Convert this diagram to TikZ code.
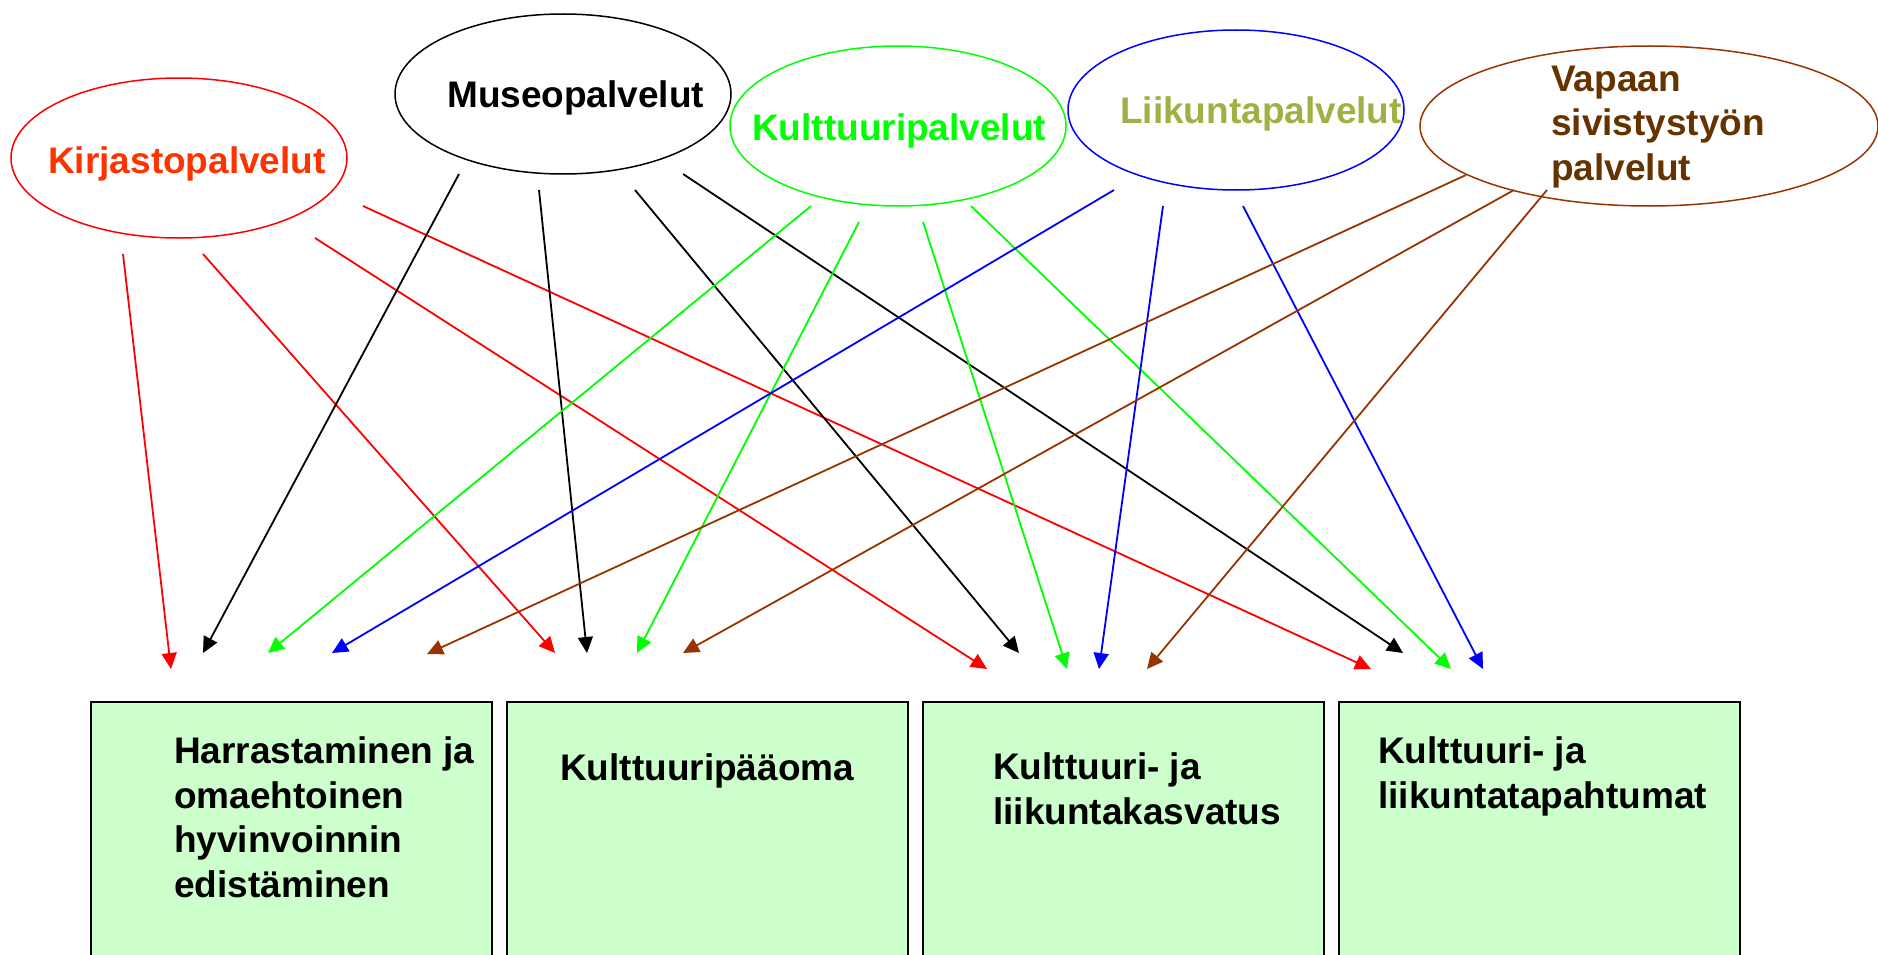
\documentclass[tikz,border=0pt]{standalone}
\usepackage{fontspec}
\setmainfont{Liberation Sans}
\usetikzlibrary{positioning, arrows.meta}
\usetikzlibrary{shapes.geometric}
\definecolor{kirjred}{HTML}{FF3300}
\definecolor{vgreen}{HTML}{00FF00}
\definecolor{liikolive}{HTML}{A2AF45}
\definecolor{vaplinebrown}{HTML}{993300}
\definecolor{vaptextbrown}{HTML}{663300}
\definecolor{boxgreen}{HTML}{CCFFCC}
\tikzset{
    palvelu/.style={ellipse, draw, line width=1.5pt, minimum width=336pt, minimum height=160pt, inner sep=0pt},
    alue/.style={rectangle, draw=black, line width=2pt, fill=boxgreen, minimum width=401pt, minimum height=400pt, inner sep=0pt, outer sep=0pt},
    otsikko/.style={font=\bfseries\fontsize{37}{44.5}\selectfont, align=left, anchor=base west, inner sep=0pt},
    yhteys/.style={line width=1.8pt},
  }
\begin{document}
\begin{tikzpicture}[x=1pt,y=-1pt,>={Triangle[length=16pt,width=15pt]},node distance=15pt]
    \useasboundingbox (0,0) rectangle (1878,955);
    % palvelut (ellipses)
    \node[palvelu, draw=red] (kir) at (179,158) {};
    \node[palvelu, draw=black] (mus) at (563,94) {};
    \node[palvelu, draw=vgreen] (kul) at (898,126) {};
    \node[palvelu, draw=blue] (lii) at (1236,110) {};
    \node[palvelu, draw=vaplinebrown, minimum width=458pt] (vap) at (1649,126) {};
    % (base of a multi-line node = its last line)
    \node[otsikko, text=kirjred] (kirtxt) at (48,173) {Kirjastopalvelut};
    \node[otsikko, text=black] (mustxt) at (447,108) {Museopalvelut};
    \node[otsikko, text=vgreen] (kultxt) at (752,140) {Kulttuuripalvelut};
    \node[otsikko, text=liikolive] (liitxt) at (1120,124) {Liikuntapalvelut};
    \node[otsikko, text=vaptextbrown] (vaptxt) at (1551,180) {Vapaan\\sivistystyön\\palvelut};
    % alueet (boxes)
    \node[alue, anchor=north west] (b1) at (91,702) {};
    \node[alue] (b2) [right=of b1] {};
    \node[alue] (b3) [right=of b2] {};
    \node[alue] (b4) [right=of b3] {};
    \node[otsikko] (b1txt) at (174,897) {Harrastaminen ja\\omaehtoinen\\hyvinvoinnin\\edistäminen};
    \node[otsikko] (b2txt) at (560,780) {Kulttuuripääoma};
    \node[otsikko] (b3txt) at (993,824) {Kulttuuri- ja\\liikuntakasvatus};
    \node[otsikko] (b4txt) at (1378,808) {Kulttuuri- ja\\liikuntatapahtumat};
    % start points under the ellipses
    \foreach \n/\x/\y in {kir1/123/254, kir2/203/254, kir3/315/238, kir4/363/206,
                          mus1/459/174, mus2/539/190, mus3/635/190, mus4/683/174,
                          kul1/811/206, kul2/859/222, kul3/923/222, kul4/971/206,
                          lii1/1114/190, lii2/1163/206, lii3/1243/206,
                          vap1/1466/175, vap2/1514/190, vap3/1547/190}
        \coordinate (\n) at (\x,\y);
    % arrow tips above the boxes
    \foreach \n/\x/\y in {h1/171/669, h2/203/653, h3/268/653, h4/332/653, h5/427/654,
                          p1/555/653, p2/587/653, p3/637/653, p4/683/653,
                          k1/987/669, k2/1019/653, k3/1067/669, k4/1099/669, k5/1147/669,
                          t1/1371/669, t2/1403/653, t3/1451/669, t4/1483/669}
        \coordinate (\n) at (\x,\y);
    % connectors
    \foreach \a/\b in {kir1/h1, kir2/p1, kir3/k1, kir4/t1}
        \draw[yhteys, red, ->] (\a) -- (\b);
    \foreach \a/\b in {mus1/h2, mus2/p2, mus3/k2, mus4/t2}
        \draw[yhteys, black, ->] (\a) -- (\b);
    \foreach \a/\b in {kul1/h3, kul2/p3, kul3/k3, kul4/t3}
        \draw[yhteys, vgreen, ->] (\a) -- (\b);
    \foreach \a/\b in {lii1/h4, lii2/k4, lii3/t4}
        \draw[yhteys, blue, ->] (\a) -- (\b);
    \foreach \a/\b in {vap1/h5, vap2/p4, vap3/k5}
        \draw[yhteys, vaplinebrown, ->] (\a) -- (\b);
\end{tikzpicture}
\end{document}
